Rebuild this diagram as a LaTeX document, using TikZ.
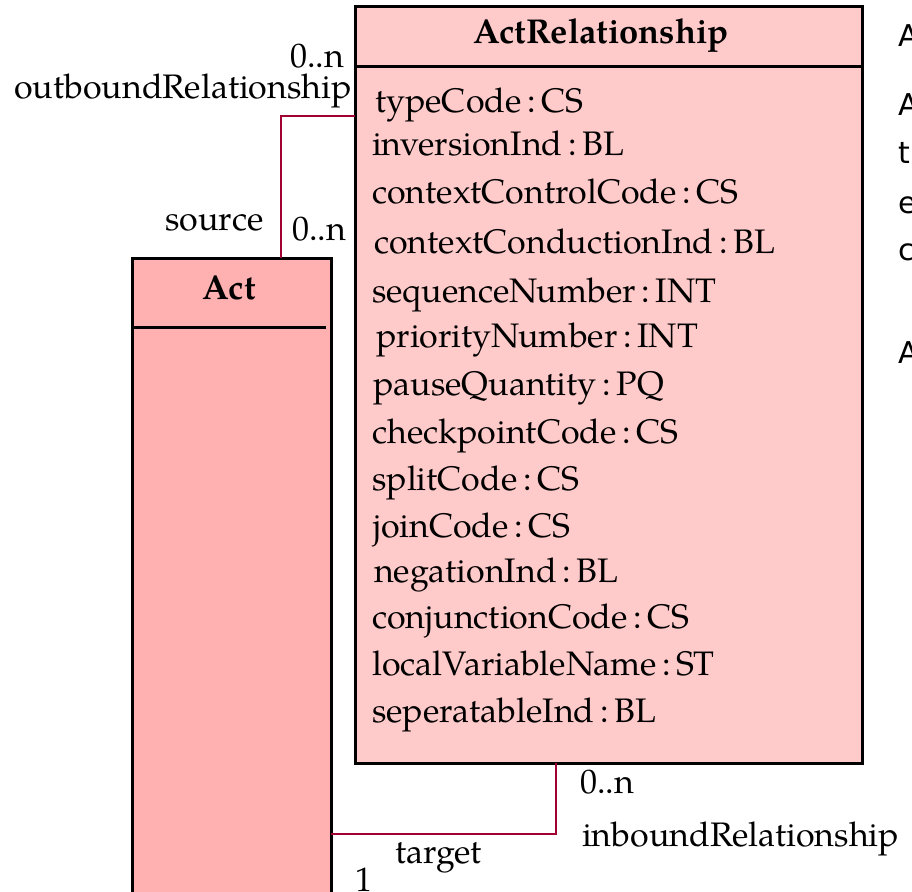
\documentclass[tikz,border=0pt]{standalone}
\usepackage{fontspec}
\setmainfont{TeX Gyre Pagella}
\newfontfamily\cutfont{DejaVu Sans}
\definecolor{actfill}{RGB}{255,176,176}
\definecolor{relfill}{RGB}{255,202,202}
\definecolor{assoc}{RGB}{160,0,50}
\begin{document}
\begin{tikzpicture}[x=1pt,y=-1pt,
  classbox/.style={draw=black,line width=3pt,inner sep=0pt,outer sep=0pt,anchor=north west},
  divider/.style={draw=black,line width=3pt},
  attr/.style={anchor=base west,inner sep=0pt,font=\fontsize{34}{40}\selectfont},
  lbl/.style={inner sep=0pt,font=\fontsize{34}{40}\selectfont},
  ctitle/.style={anchor=base,inner sep=0pt,font=\fontsize{34.5}{40}\selectfont\bfseries},
  assocline/.style={draw=assoc,line width=2.6pt},
  cutlbl/.style={anchor=base west,inner sep=0pt,font=\cutfont\fontsize{30}{36}\selectfont}]
\useasboundingbox (0,0) rectangle (912,891);
\clip (0,0) rectangle (912,891);

% classes
\node[classbox,fill=actfill,minimum width=199pt,minimum height=650pt] (act) at (132,258) {};
\node[classbox,fill=relfill,minimum width=507pt,minimum height=756pt] (rel) at (355,7) {};
\draw[divider] (act.west |- 0,327) -- (326,327);
\draw[divider] (rel.west |- 0,66) -- (rel.east |- 0,66);
\node[ctitle] (acttitle) at (229,299) {Act};
\node[ctitle] (reltitle) at (601,44) {ActRelationship};

% attributes
\node[attr] (a1) at (375,112) {typeCode\,:\,CS};
\node[attr] (a2) at (372,155) {inversionInd\,:\,BL};
\node[attr] (a3) at (372,203) {contextControlCode\,:\,CS};
\node[attr] (a4) at (374,253) {contextConductionInd\,:\,BL};
\node[attr] (a5) at (372,302) {sequenceNumber\,:\,INT};
\node[attr] (a6) at (376,347) {priorityNumber\,:\,INT};
\node[attr] (a7) at (373,395) {pauseQuantity\,:\,PQ};
\node[attr] (a8) at (372,443) {checkpointCode\,:\,CS};
\node[attr] (a9) at (372,490) {splitCode\,:\,CS};
\node[attr] (a10) at (373,537) {joinCode\,:\,CS};
\node[attr] (a11) at (374,582) {negationInd\,:\,BL};
\node[attr] (a12) at (372,628) {conjunctionCode\,:\,CS};
\node[attr] (a13) at (372,675) {localVariableName\,:\,ST};
\node[attr] (a14) at (372,722) {seperatableInd\,:\,BL};

% connectors
\coordinate (outR) at (rel.west |- 0,116);
\coordinate (outA) at (281,258);
\draw[assocline] (outR) -| (outA);
\coordinate (inR) at (556,763);
\coordinate (inA) at (331,834);
\draw[assocline] (inR) |- (inA);

% association labels
\node[lbl,anchor=base east] (m1) at (344,67) {0..n};
\node[lbl,anchor=base west] (r1) at (14,98) {outboundRelationship};
\node[lbl,anchor=base east] (r2) at (264,230) {source};
\node[lbl,anchor=base west] (m2) at (292,240) {0..n};
\node[lbl,anchor=base west] (m3) at (580,793) {0..n};
\node[lbl,anchor=base west] (r3) at (582,846) {inboundRelationship};
\node[lbl,anchor=base west] (r4) at (395,863) {target};
\node[lbl,anchor=base west] (m4) at (355,891) {1};

% clipped text at the right edge
\node[cutlbl] (c1) at (898,47) {A};
\node[cutlbl] (c2) at (898,115) {A};
\node[cutlbl] (c3) at (898,163) {t};
\node[cutlbl] (c4) at (898,213) {e};
\node[cutlbl] (c5) at (898,260) {c};
\node[cutlbl] (c6) at (898,363) {A};
\end{tikzpicture}
\end{document}
